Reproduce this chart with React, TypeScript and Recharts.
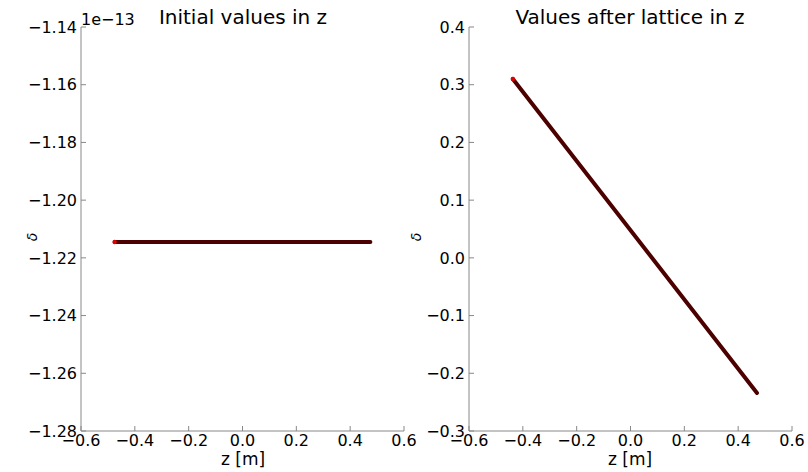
import { Line, LineChart, XAxis, YAxis } from "recharts";

// left panel: initial values (delta in units of 1, scaled by 1e-13)
const zInitial = [-0.475, 0.475];
const deltaInitial = [-1.2145e-13, -1.2145e-13];

// right panel: after lattice
const zAfter = [-0.437, 0.47];
const deltaAfter = [0.31, -0.234];

const zTicks = [-0.6, -0.4, -0.2, 0.0, 0.2, 0.4, 0.6];
const initialTicks = [-1.28e-13, -1.26e-13, -1.24e-13, -1.22e-13, -1.2e-13, -1.18e-13, -1.16e-13, -1.14e-13];
const afterTicks = [-0.3, -0.2, -0.1, 0.0, 0.1, 0.2, 0.3, 0.4];

const FONT = "DejaVu Sans, sans-serif";
const SPINE = "#888";
const TICK_LEN = 5;

const fmt = (v: number, digits: number) => {
  const s = Math.abs(v).toFixed(digits);
  return (v < 0 && Number(s) !== 0 ? "\u2212" : "") + s;
};

function BottomTick({ x, y, payload }: any) {
  return (
    <g>
      <line x1={x} y1={y} x2={x} y2={y - TICK_LEN} stroke={SPINE} />
      <text x={x} y={y + 15} textAnchor="middle" fontSize={16} fontFamily={FONT} fill="#000">
        {fmt(payload.value, 1)}
      </text>
    </g>
  );
}

function TopTick({ x, y }: any) {
  return <line x1={x} y1={y} x2={x} y2={y + TICK_LEN} stroke={SPINE} />;
}

function RightTick({ x, y }: any) {
  return <line x1={x} y1={y} x2={x - TICK_LEN} y2={y} stroke={SPINE} />;
}

function makeLeftTick(scale: number, digits: number) {
  return function LeftTick({ x, y, payload }: any) {
    return (
      <g>
        <line x1={x} y1={y} x2={x + TICK_LEN} y2={y} stroke={SPINE} />
        <text x={x - 4} y={y} dy="0.36em" textAnchor="end" fontSize={16} fontFamily={FONT} fill="#000">
          {fmt(payload.value * scale, digits)}
        </text>
      </g>
    );
  };
}

function startDot(props: any) {
  if (props.index !== 0) return <g key={props.index} />;
  return <circle key={props.index} cx={props.cx} cy={props.cy} r={2.2} fill="#e00000" />;
}

function Panel({ left, zs, ds, domain, ticks, scale, digits }: any) {
  const data = zs.map((z: number, i: number) => ({ z, d: ds[i] }));
  const LeftTick = makeLeftTick(scale, digits);
  return (
    <div style={{ position: "absolute", left, top: 0 }}>
      <LineChart width={420} height={472} data={data} margin={{ top: 27, right: 16, bottom: 0, left: 0 }}>
        <XAxis
          dataKey="z"
          type="number"
          domain={[-0.6, 0.6]}
          ticks={zTicks}
          interval={0}
          allowDataOverflow
          height={41}
          tickSize={0}
          tickMargin={0}
          tickLine={false}
          axisLine={{ stroke: SPINE }}
          tick={<BottomTick />}
        />
        <XAxis
          xAxisId="top"
          orientation="top"
          type="number"
          domain={[-0.6, 0.6]}
          ticks={zTicks}
          interval={0}
          allowDataOverflow
          height={0}
          tickSize={0}
          tickMargin={0}
          tickLine={false}
          axisLine={{ stroke: SPINE }}
          tick={<TopTick />}
        />
        <YAxis
          type="number"
          domain={domain}
          ticks={ticks}
          interval={0}
          allowDataOverflow
          width={81}
          tickSize={0}
          tickMargin={0}
          tickLine={false}
          axisLine={{ stroke: SPINE }}
          tick={<LeftTick />}
        />
        <YAxis
          yAxisId="right"
          orientation="right"
          type="number"
          domain={domain}
          ticks={ticks}
          interval={0}
          allowDataOverflow
          width={0}
          tickSize={0}
          tickMargin={0}
          tickLine={false}
          axisLine={{ stroke: SPINE }}
          tick={<RightTick />}
        />
        <Line
          type="linear"
          dataKey="d"
          stroke="#4d0000"
          strokeWidth={4}
          strokeLinecap="round"
          dot={startDot}
          activeDot={false}
          isAnimationActive={false}
        />
      </LineChart>
    </div>
  );
}

export default function App() {
  return (
    <div style={{ position: "absolute", left: 0, top: 0, width: 808, height: 472, background: "#fff", overflow: "hidden" }}>
      <Panel left={0} zs={zInitial} ds={deltaInitial} domain={[-1.28e-13, -1.14e-13]} ticks={initialTicks} scale={1e13} digits={2} />
      <Panel left={388} zs={zAfter} ds={deltaAfter} domain={[-0.3, 0.4]} ticks={afterTicks} scale={1} digits={1} />
      <svg width={808} height={472} style={{ position: "absolute", left: 0, top: 0, pointerEvents: "none" }} fontFamily={FONT}>
        <text x={243} y={24} textAnchor="middle" fontSize={20}>Initial values in z</text>
        <text x={81} y={25} fontSize={16}>1e{"\u2212"}13</text>
        <text x={630} y={24} textAnchor="middle" fontSize={20}>Values after lattice in z</text>
        <text x={243} y={465} textAnchor="middle" fontSize={17}>z [m]</text>
        <text x={630} y={465} textAnchor="middle" fontSize={17}>z [m]</text>
        <text x={0} y={0} transform="translate(37 237) rotate(-90)" textAnchor="middle" fontSize={14} fontStyle="italic">δ</text>
        <text x={0} y={0} transform="translate(421 237) rotate(-90)" textAnchor="middle" fontSize={14} fontStyle="italic">δ</text>
      </svg>
    </div>
  );
}
